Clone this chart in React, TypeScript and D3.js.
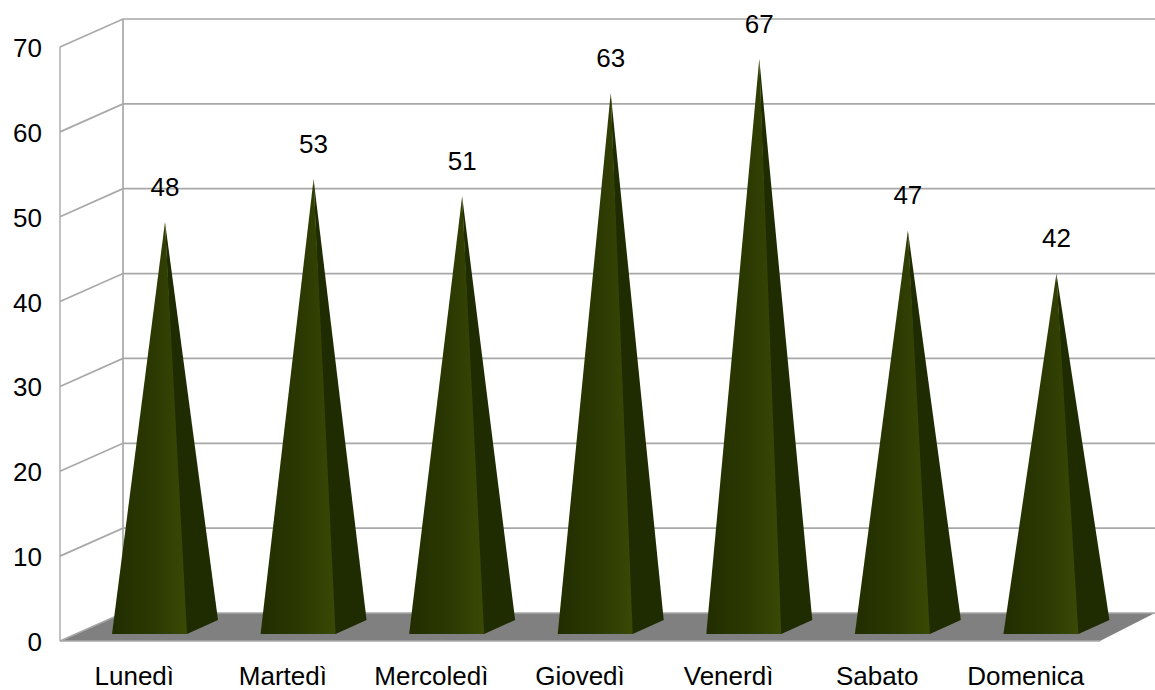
import * as d3 from "d3";

const days = ["Lunedì", "Martedì", "Mercoledì", "Giovedì", "Venerdì", "Sabato", "Domenica"];
const values = [48, 53, 51, 63, 67, 47, 42];
const yTicks = [0, 10, 20, 30, 40, 50, 60, 70];

const W = 1155;
const H = 690;
const FRONT = { LEFT: 60, RIGHT: 1100, BOTTOM: 641, TOP: 47 };
const DEPTH_X = 63;
const DEPTH_Y = 28;
const FONT = "'Liberation Sans', Arial, sans-serif";
const FONT_SIZE = 26;
const GRID = "#a8a8a8";

const y = d3.scaleLinear().domain([0, 70]).range([FRONT.BOTTOM, FRONT.TOP]);
// the spike tips sit in the middle of the depth, a bit stretched by the perspective
const yTip = d3.scaleLinear().domain([0, 70]).range([634, 33]);
const x = d3.scaleBand<string>().domain(days).range([FRONT.LEFT, FRONT.RIGHT]);

const line = d3.line();

const App = () => {
  return (
    <svg width={W} height={H} style={{ position: "absolute", left: 0, top: 0 }}>
      <defs>
        <linearGradient id="front" x1="0" x2="1" y1="0" y2="0">
          <stop offset="0" stopColor="#222d00" />
          <stop offset="0.55" stopColor="#2c3902" />
          <stop offset="1" stopColor="#3a4905" />
        </linearGradient>
      </defs>
      <rect width={W} height={H} fill="#ffffff" />

      {/* floor */}
      <polygon
        points={[
          [FRONT.LEFT, FRONT.BOTTOM],
          [FRONT.LEFT + DEPTH_X, FRONT.BOTTOM - DEPTH_Y],
          [W, FRONT.BOTTOM - DEPTH_Y],
          [FRONT.RIGHT, FRONT.BOTTOM],
        ].join(" ")}
        fill="#808080"
      />
      {yTicks.map((t) => (
        <path
          key={t}
          d={
            line([
              [FRONT.LEFT, y(t)],
              [FRONT.LEFT + DEPTH_X, y(t) - DEPTH_Y],
              [W, y(t) - DEPTH_Y],
            ]) as string
          }
          fill="none"
          stroke={GRID}
          strokeWidth={1.7}
        />
      ))}
      <path
        d={line([[FRONT.LEFT, y(0)], [FRONT.RIGHT, y(0)]]) as string}
        stroke={GRID}
        strokeWidth={1.7}
      />
      <path
        d={line([[FRONT.LEFT, y(0)], [FRONT.LEFT, y(70)]]) as string}
        stroke={GRID}
        strokeWidth={1.4}
      />
      <path
        d={line([[FRONT.LEFT + DEPTH_X, y(0) - DEPTH_Y], [FRONT.LEFT + DEPTH_X, y(70) - DEPTH_Y]]) as string}
        stroke={GRID}
        strokeWidth={1.7}
      />

      {/* pyramids */}
      {days.map((d, i) => {
        const x0 = (x(d) as number) + 52;
        const x1 = x0 + 75;
        const tipX = x0 + 53;
        const tipY = yTip(values[i]);
        return (
          <g key={d}>
            {/* side face runs a little under the front one so no seam shows */}
            <polygon
              points={[[x1 - 3, 634], [x1, 634], [x1 + 31, 620], [tipX, tipY]].join(" ")}
              fill="#1f2b00"
            />
            <polygon
              points={[[x0, 634], [x1, 634], [tipX, tipY]].join(" ")}
              fill="url(#front)"
            />
            <text
              x={tipX}
              y={tipY - 26}
              textAnchor="middle"
              fontFamily={FONT}
              fontSize={FONT_SIZE}
              fill="#000000"
            >
              {values[i]}
            </text>
            <text
              x={(x(d) as number) + x.bandwidth() / 2}
              y={685}
              textAnchor="middle"
              fontFamily={FONT}
              fontSize={FONT_SIZE}
              fill="#000000"
            >
              {d}
            </text>
          </g>
        );
      })}

      {yTicks.map((t) => (
        <text
          key={t}
          x={42}
          y={y(t) + 10}
          textAnchor="end"
          fontFamily={FONT}
          fontSize={FONT_SIZE}
          fill="#000000"
        >
          {t}
        </text>
      ))}
    </svg>
  );
};

export default App;
